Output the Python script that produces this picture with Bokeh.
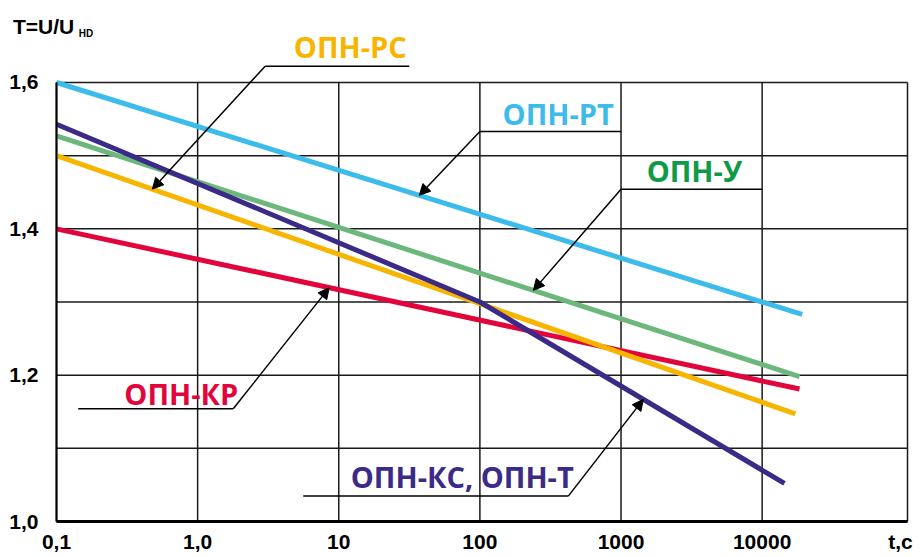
import numpy as np
from bokeh.plotting import figure
from bokeh.models import (Range1d, FixedTicker, CustomJSTickFormatter, Label,
                          Arrow, NormalHead)
from bokeh.embed import file_html
from bokeh.resources import INLINE

# ---------------- data ----------------
rt_t = [0.1, 19200]
rt_v = [1.600, 1.283]          # ОПН-РТ
kr_t = [0.1, 18400]
kr_v = [1.400, 1.181]          # ОПН-КР
u_t = [0.1, 18400]
u_v = [1.527, 1.198]           # ОПН-У
rc_t = [0.1, 17200]
rc_v = [1.500, 1.147]          # ОПН-РС
kc_t = [0.1, 100, 14400]
kc_v = [1.543, 1.300, 1.052]   # ОПН-КС, ОПН-Т

x_ticks = [0.1, 1, 10, 100, 1000, 10000]
x_tick_labels = ["0,1", "1,0", "10", "100", "1000", "10000"]
x_unit_label = "t,c"
y_grid = [1.0, 1.1, 1.2, 1.3, 1.4, 1.5, 1.6]
y_ticks = [1.0, 1.2, 1.4, 1.6]
y_tick_labels = ["1,0", "1,2", "1,4", "1,6"]

# ---------------- layout ----------------
C_BLUE, C_RED, C_GREEN, C_YELLOW, C_PURPLE = "#3dbcec", "#e2053c", "#6cb87c", "#f7b500", "#3b2a88"
TXT_GREEN = "#0f9a45"
GRID_C = "#1a1a1a"
LABEL_FONT = "Open Sans"
AXIS_FONT = "Liberation Sans"

W, H = 920, 555
PX_LEFT, PX_BOTTOM = 56, 521          # pixel position of t=0.1 and T=1.0
PX_DECADE = 141.13                    # pixels per decade of t
PX_UNIT = 731.67                      # pixels per 1.0 of T
T_MIN, T_BORDER = 0.1, 10 ** 5.03     # plotted t extent (left axis .. right border)
V_MIN, V_MAX = 1.0, 1.6
UNIT_POS = 10 ** 4.98                 # where the "t,c" axis caption sits

x_start = 10 ** (np.log10(T_MIN) - PX_LEFT / PX_DECADE)
x_end = 10 ** (np.log10(T_MIN) + (W - PX_LEFT) / PX_DECADE)
y_start = V_MIN - (H - PX_BOTTOM) / PX_UNIT
y_end = V_MIN + PX_BOTTOM / PX_UNIT

p = figure(width=W, height=H, x_axis_type="log",
           x_range=Range1d(x_start, x_end), y_range=Range1d(y_start, y_end),
           output_backend="svg", toolbar_location=None,
           min_border_left=0, min_border_right=0, min_border_top=0, min_border_bottom=0)
p.background_fill_color = "white"
p.border_fill_color = "white"
p.outline_line_color = None
p.xgrid.visible = False
p.ygrid.visible = False

# grid (drawn from the tick arrays, limited to the chart box)
vx = x_ticks + [T_BORDER]
p.segment(x0=vx, y0=[V_MIN] * len(vx), x1=vx, y1=[V_MAX] * len(vx),
          line_color=GRID_C, line_width=1.5)
p.segment(x0=[T_MIN] * len(y_grid), y0=y_grid, x1=[T_BORDER] * len(y_grid), y1=y_grid,
          line_color=GRID_C, line_width=1.5)

fmt_code = """
const i = tvals.findIndex(t => Math.abs(t - tick) <= 1e-9 * Math.max(1, Math.abs(t)));
return i >= 0 ? tlabels[i] : '';
"""
xt = x_ticks + [UNIT_POS]
xl = x_tick_labels + [x_unit_label]
p.xaxis.ticker = FixedTicker(ticks=xt, minor_ticks=[])
p.xaxis.formatter = CustomJSTickFormatter(args=dict(tvals=xt, tlabels=xl), code=fmt_code)
p.yaxis.ticker = FixedTicker(ticks=y_ticks, minor_ticks=[])
p.yaxis.formatter = CustomJSTickFormatter(args=dict(tvals=y_ticks, tlabels=y_tick_labels), code=fmt_code)
p.xaxis.fixed_location = V_MIN
p.yaxis.fixed_location = T_MIN
p.xaxis.bounds = (T_MIN, T_BORDER)
p.yaxis.bounds = (V_MIN, V_MAX)

for ax in (p.xaxis, p.yaxis):
    ax.major_tick_line_color = None
    ax.minor_tick_line_color = None
    ax.axis_line_color = "black"
    ax.major_label_text_font = AXIS_FONT
    ax.major_label_text_font_style = "bold"
    ax.major_label_text_color = "black"
p.xaxis.axis_line_width = 3
p.yaxis.axis_line_width = 2
p.xaxis.major_label_text_font_size = "21px"
p.yaxis.major_label_text_font_size = "21px"
p.xaxis.major_label_standoff = 2
p.yaxis.major_label_standoff = 12

# ---------------- series ----------------
LW = 5
p.line(rt_t, rt_v, line_color=C_BLUE, line_width=LW)
p.line(kr_t, kr_v, line_color=C_RED, line_width=LW)
p.line(u_t, u_v, line_color=C_GREEN, line_width=LW)
p.line(rc_t, rc_v, line_color=C_YELLOW, line_width=LW)
p.line(kc_t, kc_v, line_color=C_PURPLE, line_width=LW)


def on_line(ts, vs, t):
    return float(np.interp(np.log10(t), np.log10(ts), vs))


def add_label(x, y, text, color, size, font, align="center"):
    p.add_layout(Label(x=x, y=y, text=text, text_color=color, text_font=font,
                       text_font_style="bold", text_font_size=size,
                       text_align=align, text_baseline="middle"))


def add_line(x0, y0, x1, y1, head=False):
    end = NormalHead(size=11, fill_color="black", line_color="black", line_width=1) if head else None
    p.add_layout(Arrow(x_start=x0, y_start=y0, x_end=x1, y_end=y1, end=end,
                       line_color="black", line_width=1.5))


# (text, colour, text pos, underline x0, underline x1, underline y, corner x, target t, series)
annots = [
    ("ОПН-РС", C_YELLOW, (12.07, 1.6497), 3.01, 31.6, 1.6223, 3.01, 0.477, (rc_t, rc_v)),
    ("ОПН-РТ", C_BLUE, (359, 1.558), 100, 1000, 1.533, 100, 37.2, (rt_t, rt_v)),
    ("ОПН-У", TXT_GREEN, (3311, 1.480), 1000, 10000, 1.454, 1000, 239, (u_t, u_v)),
    ("ОПН-КР", C_RED, (0.766, 1.175), 0.1426, 1.788, 1.154, 1.788, 8.56, (kr_t, kr_v)),
    ("ОПН-КС, ОПН-Т", C_PURPLE, (75, 1.0614), 5.60, 423, 1.0347, 423, 1439, (kc_t, kc_v)),
]
for text, col, (tx, ty), u0, u1, uy, cxr, tt, (sts, svs) in annots:
    add_label(tx, ty, text, col, "29px", LABEL_FONT)
    add_line(u0, uy, u1, uy)
    add_line(cxr, uy, tt, on_line(sts, svs, tt), head=True)

# y-axis caption T=U/U_HD
add_label(10 ** -1.309, 1.676, "T=U/U", "black", "21px", AXIS_FONT, align="left")
add_label(10 ** -0.842, 1.667, "HD", "black", "10px", AXIS_FONT, align="left")

open("out.html", "w").write(file_html(p, INLINE))
